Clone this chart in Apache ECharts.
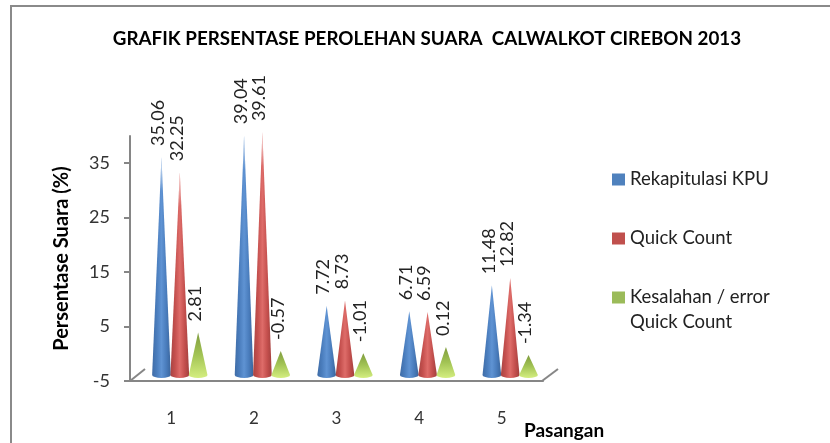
<!DOCTYPE html>
<html>
<head>
<meta charset="utf-8">
<style>html,body{margin:0;padding:0;background:#fff}#main{width:830px;height:443px}</style>
<script src="https://cdn.jsdelivr.net/npm/echarts@6/dist/echarts.min.js"></script>
</head>
<body>
<div id="main"></div>
<script>
const categories = ["1", "2", "3", "4", "5"];
const rekapKpu = [35.06, 39.04, 7.72, 6.71, 11.48];
const quickCount = [32.25, 39.61, 8.73, 6.59, 12.82];
const kesalahan = [2.81, -0.57, -1.01, 0.12, -1.34];
const yTicks = [-5, 5, 15, 25, 35];

const font = "Lato, Carlito, sans-serif";
const axisColor = "#868686";

function coneFill(colors, vertical) {
  return {
    type: "linear", x: 0, y: 0, x2: vertical ? 0 : 1, y2: vertical ? 1 : 0,
    colorStops: colors.map((c, i) => ({ offset: i / (colors.length - 1), color: c })),
  };
}

// cones sit on the floor of the fake 3d box, so they use the shifted grid
function cone(name, values, idx, color, fill) {
  return {
    type: "custom",
    name: name,
    xAxisIndex: 1,
    yAxisIndex: 1,
    itemStyle: { color: color },
    data: values.map((v, i) => [i, v]),
    encode: { x: 0, y: 1 },
    renderItem: (params, api) => {
      const band = api.size([1, 0])[0];
      const value = api.value(1);
      const tip = api.coord([api.value(0), value]);
      const base = api.coord([api.value(0), -5]);
      const cx = base[0] + (idx - 1) * band * 0.222;
      const r = band * 0.113;
      const path = "M" + cx + " " + tip[1] +
        "L" + (cx + r) + " " + base[1] +
        "A" + r + " 3 0 0 1 " + (cx - r) + " " + base[1] + "Z";
      const children = [{
        type: "path",
        shape: { pathData: path },
        style: { fill: fill },
      }];
      // tall cones fade out towards the tip
      const h = base[1] - tip[1];
      if (h > 150) {
        const w = r * 34 / h;
        children.push({
          type: "polygon",
          shape: { points: [[cx, tip[1]], [cx + w, tip[1] + 34], [cx - w, tip[1] + 34]] },
          style: {
            fill: {
              type: "linear", x: 0, y: 0, x2: 0, y2: 1,
              colorStops: [
                { offset: 0, color: "rgba(255,255,255,0.8)" },
                { offset: 1, color: "rgba(255,255,255,0)" },
              ],
            },
          },
        });
      }
      children.push({
        type: "text",
        x: cx - 3,
        y: tip[1] - 11,
        rotation: Math.PI / 2,
        style: {
          text: value.toFixed(2),
          font: "18px " + font,
          fill: "#222",
          align: "left",
          verticalAlign: "middle",
        },
      });
      return { type: "group", children: children };
    },
  };
}

const chart = echarts.init(document.getElementById("main"));
chart.setOption({
  animation: false,
  backgroundColor: "#fff",
  textStyle: { fontFamily: font },
  title: {
    text: "GRAFIK PERSENTASE PEROLEHAN SUARA  CALWALKOT CIREBON 2013",
    left: 422,
    top: 24,
    textAlign: "center",
    textStyle: { fontFamily: font, fontSize: 18.8, fontWeight: 700, color: "#000" },
  },
  legend: {
    orient: "vertical",
    left: 607,
    top: 165,
    itemWidth: 13,
    itemHeight: 12,
    itemGap: 40,
    icon: "rect",
    textStyle: { fontFamily: font, fontSize: 18.5, color: "#222" },
  },
  grid: [
    { left: 130, right: 287, top: 136, bottom: 62, outerBoundsMode: "none" },
    { left: 138.5, right: 278.5, top: 130, bottom: 68, outerBoundsMode: "none" },
  ],
  xAxis: [
    {
      type: "category",
      data: categories,
      name: "Pasangan",
      nameLocation: "end",
      nameGap: -19,
      nameTextStyle: { fontFamily: font, fontSize: 19, fontWeight: 700, color: "#000", verticalAlign: "top", padding: [40, 0, 0, 0] },
      axisLine: { onZero: false, lineStyle: { color: axisColor, width: 2 } },
      axisTick: { show: false },
      axisLabel: { margin: 29, fontFamily: font, fontSize: 17, color: "#333" },
    },
    { type: "category", gridIndex: 1, data: categories, show: false },
  ],
  yAxis: [
    {
      type: "value",
      min: -5,
      max: 40,
      name: "Persentase Suara (%)",
      nameLocation: "middle",
      nameGap: 58,
      nameTextStyle: { fontFamily: font, fontSize: 20, fontWeight: 700, color: "#000" },
      axisLine: { show: true, lineStyle: { color: axisColor, width: 2 } },
      axisTick: { show: true, length: 6, customValues: yTicks, lineStyle: { color: axisColor, width: 2 } },
      axisLabel: { margin: 20, customValues: yTicks, fontFamily: font, fontSize: 18, color: "#333" },
      splitLine: { show: false },
    },
    { type: "value", gridIndex: 1, min: -5, max: 40, show: false, splitLine: { show: false } },
  ],
  graphic: [
    // picture frame
    { type: "polyline", shape: { points: [[11, 443], [11, 6], [830, 6]] }, style: { stroke: "#8a8a8a", lineWidth: 2, fill: "none" } },
    // floor edges of the 3d box
    { type: "line", shape: { x1: 130, y1: 381, x2: 145, y2: 369 }, style: { stroke: axisColor, lineWidth: 2 } },
    { type: "line", shape: { x1: 542, y1: 381, x2: 558, y2: 369 }, style: { stroke: axisColor, lineWidth: 2 } },
    // second line of the third legend entry
    { type: "text", x: 630, y: 322, style: { text: "Quick Count", font: "18.5px " + font, fill: "#222", verticalAlign: "middle" } },
  ],
  series: [
    cone("Rekapitulasi KPU", rekapKpu, 0, "#4F81BD",
      coneFill(["#3F6CA6", "#4A7DBD", "#5F93D3", "#4A7DBD", "#3A659C"])),
    cone("Quick Count", quickCount, 1, "#C0504D",
      coneFill(["#A84442", "#C5504E", "#DE6C69", "#C5504E", "#A23F3D"])),
    cone("Kesalahan / error", kesalahan, 2, "#9BBB59",
      coneFill(["#7F9C3E", "#A3C455", "#D4EE80"], true)),
  ],
});
</script>
</body>
</html>
